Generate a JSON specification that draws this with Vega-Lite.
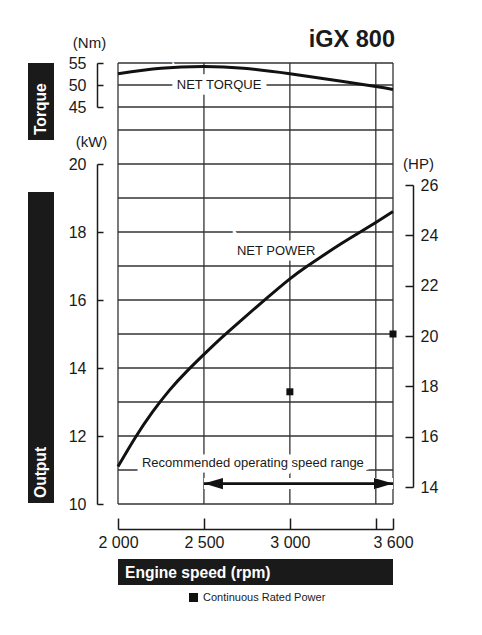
{
  "$schema": "https://vega.github.io/schema/vega-lite/v6.json",
  "padding": {"left": 28, "top": 27, "right": 5, "bottom": 5},
  "config": {
    "font": "Liberation Sans",
    "view": {"stroke": null},
    "axis": {
      "grid": false,
      "domainColor": "#1a1a1a",
      "domainWidth": 1.5,
      "tickColor": "#1a1a1a",
      "tickWidth": 1.5,
      "labelColor": "#1a1a1a",
      "labelFont": "Liberation Sans",
      "labelFontSize": 16,
      "labelFlush": false,
      "titleFont": "Liberation Sans",
      "titleFontSize": 15,
      "titleFontWeight": "normal",
      "titleColor": "#1a1a1a"
    },
    "text": {"font": "Liberation Sans", "color": "#1a1a1a"}
  },
  "datasets": {
    "torque": [
      {"rpm": 2000, "nm": 52.55},
      {"rpm": 2250, "nm": 53.8},
      {"rpm": 2500, "nm": 54.2},
      {"rpm": 2730, "nm": 53.8},
      {"rpm": 3000, "nm": 52.55},
      {"rpm": 3300, "nm": 50.85},
      {"rpm": 3500, "nm": 49.66},
      {"rpm": 3600, "nm": 49.0}
    ],
    "power": [
      {"rpm": 2000, "kw": 11.1},
      {"rpm": 2100, "kw": 11.95},
      {"rpm": 2200, "kw": 12.7},
      {"rpm": 2300, "kw": 13.35},
      {"rpm": 2400, "kw": 13.9},
      {"rpm": 2500, "kw": 14.4},
      {"rpm": 2600, "kw": 14.88},
      {"rpm": 2700, "kw": 15.33},
      {"rpm": 2800, "kw": 15.77},
      {"rpm": 2900, "kw": 16.2},
      {"rpm": 3000, "kw": 16.62},
      {"rpm": 3100, "kw": 16.99},
      {"rpm": 3200, "kw": 17.33},
      {"rpm": 3300, "kw": 17.66},
      {"rpm": 3400, "kw": 17.97},
      {"rpm": 3500, "kw": 18.28},
      {"rpm": 3600, "kw": 18.6}
    ],
    "rated": [
      {"rpm": 3000, "kw": 13.3, "series": "Continuous Rated Power"},
      {"rpm": 3600, "kw": 15.0, "series": "Continuous Rated Power"}
    ],
    "rpmGrid": [{"rpm": 2000}, {"rpm": 2500}, {"rpm": 3000}, {"rpm": 3500}, {"rpm": 3600}],
    "kwGrid": [
      {"kw": 10}, {"kw": 11}, {"kw": 12}, {"kw": 13}, {"kw": 14}, {"kw": 15},
      {"kw": 16}, {"kw": 17}, {"kw": 18}, {"kw": 19}, {"kw": 20}, {"kw": 21}
    ],
    "nmGrid": [{"nm": 45}, {"nm": 50}, {"nm": 55}],
    "hpTicks": [{"hp": 14}, {"hp": 26}],
    "powerNotes": [
      {"label": "NET POWER", "rpm": 2920, "kw": 17.43},
      {"label": "Recommended operating speed range", "rpm": 2785, "kw": 11.2}
    ],
    "torqueNotes": [{"label": "NET TORQUE", "rpm": 2588, "nm": 50}],
    "range": [{"rpm": 2500, "rpm_end": 3600, "kw": 10.6}],
    "heads": [
      {"rpm": 2500, "kw": 10.6, "dir": "left"},
      {"rpm": 3600, "kw": 10.6, "dir": "right"}
    ]
  },
  "hconcat": [
    {
      "vconcat": [
        {
          "width": 26,
          "height": 77,
          "view": {"fill": "#1a1a1a", "stroke": null},
          "data": {"values": [{"label": "Torque"}]},
          "mark": {"type": "text", "angle": 270, "align": "left", "baseline": "middle", "dx": -33.5, "color": "white", "fontWeight": "bold", "fontSize": 15.6},
          "encoding": {"text": {"field": "label"}}
        },
        {
          "width": 26,
          "height": 311,
          "view": {"fill": "#1a1a1a", "stroke": null},
          "data": {"values": [{"label": "Output"}]},
          "mark": {"type": "text", "angle": 270, "align": "left", "baseline": "middle", "dx": -150.5, "color": "white", "fontWeight": "bold", "fontSize": 15.6},
          "encoding": {"text": {"field": "label"}}
        }
      ],
      "spacing": 52,
      "bounds": "flush"
    },
    {
      "vconcat": [
        {
          "width": 275,
          "height": 441,
          "title": {"text": "iGX 800", "anchor": "end", "frame": "group", "font": "Liberation Sans", "fontSize": 23.5, "fontWeight": "bold", "color": "#1a1a1a", "offset": -16, "dx": 2},
          "layer": [
            {
              "data": {"name": "rpmGrid"},
              "mark": {"type": "rule", "color": "#333333", "strokeWidth": 1.3},
              "encoding": {
                "x": {
                  "field": "rpm", "type": "quantitative",
                  "scale": {"domain": [2000, 3600], "nice": false, "zero": false},
                  "axis": {
                    "orient": "bottom", "offset": 25, "title": null,
                    "values": [2000, 2500, 3000, 3500, 3600],
                    "tickSize": -11, "labelPadding": 16, "labelFlush": false,
                    "labelExpr": "datum.value == 3500 ? '' : replace(format(datum.value, ','), ',', ' ')"
                  }
                }
              }
            },
            {
              "layer": [
                {
                  "data": {"name": "nmGrid"},
                  "mark": {"type": "rule", "color": "#333333", "strokeWidth": 1.3},
                  "encoding": {
                    "y": {
                      "field": "nm", "type": "quantitative",
                      "scale": {"domain": [45, 55], "range": [44, 0], "nice": false, "zero": false},
                      "axis": {
                        "orient": "left", "offset": 21, "values": [45, 50, 55],
                        "tickSize": -6, "labelPadding": 17,
                        "title": "(Nm)", "titleAngle": 0, "titleAlign": "center", "titleBaseline": "alphabetic",
                        "titleX": -8, "titleY": -16
                      }
                    }
                  }
                },
                {
                  "data": {"name": "torqueNotes"},
                  "mark": {"type": "text", "fontSize": 13, "baseline": "middle", "stroke": "white", "strokeWidth": 11, "color": "white"},
                  "encoding": {
                    "x": {"field": "rpm", "type": "quantitative", "scale": {"domain": [2000, 3600], "nice": false, "zero": false}},
                    "y": {"field": "nm", "type": "quantitative", "scale": {"domain": [45, 55], "range": [44, 0], "nice": false, "zero": false}},
                    "text": {"field": "label"}
                  }
                },
                {
                  "data": {"name": "torqueNotes"},
                  "mark": {"type": "text", "fontSize": 13, "baseline": "middle"},
                  "encoding": {
                    "x": {"field": "rpm", "type": "quantitative", "scale": {"domain": [2000, 3600], "nice": false, "zero": false}},
                    "y": {"field": "nm", "type": "quantitative", "scale": {"domain": [45, 55], "range": [44, 0], "nice": false, "zero": false}},
                    "text": {"field": "label"}
                  }
                },
                {
                  "data": {"name": "torque"},
                  "mark": {"type": "line", "interpolate": "natural", "color": "#111111", "strokeWidth": 3},
                  "encoding": {
                    "x": {"field": "rpm", "type": "quantitative", "scale": {"domain": [2000, 3600], "nice": false, "zero": false}},
                    "y": {"field": "nm", "type": "quantitative", "scale": {"domain": [45, 55], "range": [44, 0], "nice": false, "zero": false}}
                  }
                }
              ]
            },
            {
              "layer": [
                {
                  "data": {"name": "kwGrid"},
                  "mark": {"type": "rule", "color": "#333333", "strokeWidth": 1.3},
                  "encoding": {
                    "y": {
                      "field": "kw", "type": "quantitative",
                      "scale": {"domain": [10, 20], "range": [441, 101], "nice": false, "zero": false},
                      "axis": {
                        "orient": "left", "offset": 21, "values": [10, 12, 14, 16, 18, 20],
                        "tickSize": -6, "labelPadding": 17,
                        "title": "(kW)", "titleAngle": 0, "titleAlign": "center", "titleBaseline": "alphabetic",
                        "titleX": -6, "titleY": 83
                      }
                    }
                  }
                },
                {
                  "data": {"name": "powerNotes"},
                  "mark": {"type": "text", "fontSize": 13, "baseline": "middle", "stroke": "white", "strokeWidth": 11, "color": "white"},
                  "encoding": {
                    "x": {"field": "rpm", "type": "quantitative", "scale": {"domain": [2000, 3600], "nice": false, "zero": false}},
                    "y": {"field": "kw", "type": "quantitative", "scale": {"domain": [10, 20], "range": [441, 101], "nice": false, "zero": false}},
                    "text": {"field": "label"}
                  }
                },
                {
                  "data": {"name": "range"},
                  "mark": {"type": "rule", "color": "white", "strokeWidth": 11},
                  "encoding": {
                    "x": {"field": "rpm", "type": "quantitative", "scale": {"domain": [2000, 3600], "nice": false, "zero": false}},
                    "x2": {"field": "rpm_end"},
                    "y": {"field": "kw", "type": "quantitative", "scale": {"domain": [10, 20], "range": [441, 101], "nice": false, "zero": false}}
                  }
                },
                {
                  "data": {"name": "powerNotes"},
                  "mark": {"type": "text", "fontSize": 13, "baseline": "middle"},
                  "encoding": {
                    "x": {"field": "rpm", "type": "quantitative", "scale": {"domain": [2000, 3600], "nice": false, "zero": false}},
                    "y": {"field": "kw", "type": "quantitative", "scale": {"domain": [10, 20], "range": [441, 101], "nice": false, "zero": false}},
                    "text": {"field": "label"}
                  }
                },
                {
                  "data": {"name": "power"},
                  "mark": {"type": "line", "interpolate": "natural", "color": "#111111", "strokeWidth": 3},
                  "encoding": {
                    "x": {"field": "rpm", "type": "quantitative", "scale": {"domain": [2000, 3600], "nice": false, "zero": false}},
                    "y": {"field": "kw", "type": "quantitative", "scale": {"domain": [10, 20], "range": [441, 101], "nice": false, "zero": false}}
                  }
                },
                {
                  "data": {"name": "range"},
                  "mark": {"type": "rule", "color": "#111111", "strokeWidth": 2.6},
                  "encoding": {
                    "x": {"field": "rpm", "type": "quantitative", "scale": {"domain": [2000, 3600], "nice": false, "zero": false}},
                    "x2": {"field": "rpm_end"},
                    "y": {"field": "kw", "type": "quantitative", "scale": {"domain": [10, 20], "range": [441, 101], "nice": false, "zero": false}}
                  }
                },
                {
                  "data": {"name": "heads"},
                  "mark": {"type": "point", "filled": true, "size": 361, "color": "#111111", "opacity": 1, "strokeWidth": 0},
                  "encoding": {
                    "x": {"field": "rpm", "type": "quantitative", "scale": {"domain": [2000, 3600], "nice": false, "zero": false}},
                    "y": {"field": "kw", "type": "quantitative", "scale": {"domain": [10, 20], "range": [441, 101], "nice": false, "zero": false}},
                    "shape": {
                      "field": "dir", "type": "nominal",
                      "scale": {"domain": ["left", "right"], "range": ["M 0 0 L 2 -0.6 L 2 0.6 Z", "M 0 0 L -2 -0.6 L -2 0.6 Z"]},
                      "legend": null
                    }
                  }
                },
                {
                  "data": {"name": "rated"},
                  "mark": {"type": "square", "size": 49, "opacity": 1},
                  "encoding": {
                    "x": {"field": "rpm", "type": "quantitative", "scale": {"domain": [2000, 3600], "nice": false, "zero": false}},
                    "y": {"field": "kw", "type": "quantitative", "scale": {"domain": [10, 20], "range": [441, 101], "nice": false, "zero": false}},
                    "color": {
                      "field": "series", "type": "nominal",
                      "scale": {"range": ["#111111"]},
                      "legend": {
                        "orient": "none", "legendX": 160, "legendY": 529, "title": null,
                        "padding": 0, "symbolType": "square", "symbolSize": 81, "symbolStrokeWidth": 0,
                        "labelFont": "Liberation Sans", "labelFontSize": 11, "labelColor": "#1a1a1a", "labelOffset": 4
                      }
                    }
                  }
                }
              ]
            },
            {
              "data": {"name": "hpTicks"},
              "mark": {"type": "rule", "strokeOpacity": 0},
              "encoding": {
                "y": {
                  "field": "hp", "type": "quantitative",
                  "scale": {"domain": [14, 26], "range": [424, 122], "nice": false, "zero": false},
                  "axis": {
                    "orient": "right", "offset": 20, "values": [14, 16, 18, 20, 22, 24, 26],
                    "tickSize": -8, "labelPadding": 15,
                    "title": "(HP)", "titleAngle": 0, "titleAlign": "center", "titleBaseline": "alphabetic",
                    "titleX": 5, "titleY": 105
                  }
                }
              }
            }
          ],
          "resolve": {"scale": {"y": "independent"}}
        },
        {
          "width": 275,
          "height": 26,
          "view": {"fill": "#1a1a1a", "stroke": null},
          "data": {"values": [{"label": "Engine speed (rpm)"}]},
          "mark": {"type": "text", "align": "left", "baseline": "middle", "dx": -130.5, "dy": 1, "color": "white", "fontWeight": "bold", "fontSize": 15.6},
          "encoding": {"text": {"field": "label"}}
        }
      ],
      "spacing": 55,
      "bounds": "flush"
    }
  ],
  "spacing": 90,
  "bounds": "flush"
}
